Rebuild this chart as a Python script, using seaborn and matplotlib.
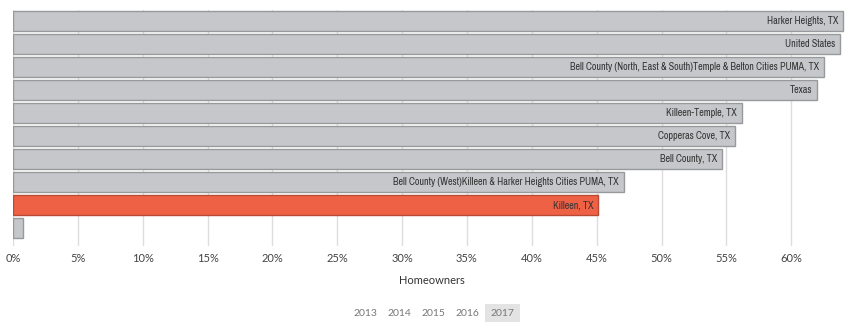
import matplotlib
matplotlib.use("Agg")
import matplotlib.pyplot as plt
import seaborn as sns
import pandas as pd
from matplotlib.patches import Rectangle
from matplotlib import font_manager

names = [
    "Harker Heights, TX",
    "United States",
    "Bell County (North, East & South)Temple & Belton Cities PUMA, TX",
    "Texas",
    "Killeen-Temple, TX",
    "Copperas Cove, TX",
    "Bell County, TX",
    "Bell County (West)Killeen & Harker Heights Cities PUMA, TX",
    "Killeen, TX",
    " ",
]
values = [64.0, 63.8, 62.5, 62.0, 56.2, 55.7, 54.7, 47.1, 45.1, 0.8]
highlight = "Killeen, TX"
ticks = [0, 5, 10, 15, 20, 25, 30, 35, 40, 45, 50, 55, 60]
years = ["2013", "2014", "2015", "2016", "2017"]
active_year = "2017"

sns.set_theme(style="white")
plt.rcParams["font.family"] = ["Lato", "DejaVu Sans"]

# pick a condensed face if one is installed
cond = None
for f in font_manager.fontManager.ttflist:
    if "Narrow" in f.name or "Condensed" in f.name:
        cond = f.name
        break
if cond is None:
    for f in font_manager.fontManager.ttflist:
        if f.stretch in ("condensed", "semi-condensed", "extra-condensed"):
            cond = f.name
            break
label_family = [cond, "DejaVu Sans"] if cond else ["DejaVu Sans"]
import sys
print("condensed:", cond, file=sys.stderr)

W, H = 857, 329
fig = plt.figure(figsize=(W / 100, H / 100), dpi=100)
left_px, right_px = 13, 13 + 64.6 * 12.97
top_px, bot_px = 10, 246
ax = fig.add_axes([left_px / W, 1 - bot_px / H, (right_px - left_px) / W, (bot_px - top_px) / H])

df = pd.DataFrame({"name": names, "value": values})
grey, red = "#c6c7ca", "#ef6145"
pal = [red if n == highlight else grey for n in names]
sns.barplot(data=df, x="value", y="name", hue="name", palette=pal, legend=False,
            width=0.87, ax=ax, zorder=3, saturation=1)
for p, n in zip(ax.patches, names):
    p.set_edgecolor("#b84a35" if n == highlight else "#98999b")
    p.set_linewidth(1.0)

for i, (n, v) in enumerate(zip(names, values)):
    if n.strip():
        ax.annotate(n, xy=(v, i), xytext=(-3.5, 0), textcoords="offset points",
                    ha="right", va="center", fontsize=7.3, color="#333333",
                    family=label_family, stretch="condensed", zorder=4)

ax.set_xlim(0, 64.6)
ax.set_ylim(9.78, -0.48)
ax.set_xticks(ticks)
ax.set_xticklabels([f"{t}%" for t in ticks], fontsize=8, color="#444444")
ax.set_yticks([])
ax.set_ylabel("")
ax.set_xlabel("Homeowners", fontsize=8, color="#333333", labelpad=8)
ax.tick_params(axis="x", length=0, pad=5)
ax.grid(axis="x", color="#dddddd", linewidth=1, zorder=0)
for s in ax.spines.values():
    s.set_visible(False)

xs = [365, 399, 433, 467, 502]
for y, x in zip(years, xs):
    if y == active_year:
        fig.patches.append(Rectangle(((x - 17.5) / W, 1 - 322 / H), 35 / W, 18 / H,
                                     transform=fig.transFigure, facecolor="#e3e3e3",
                                     edgecolor="none"))
    fig.text(x / W, 1 - 313 / H, y, ha="center", va="center", fontsize=7.5,
             color="#777777")

fig.savefig("out.png", dpi=100)
